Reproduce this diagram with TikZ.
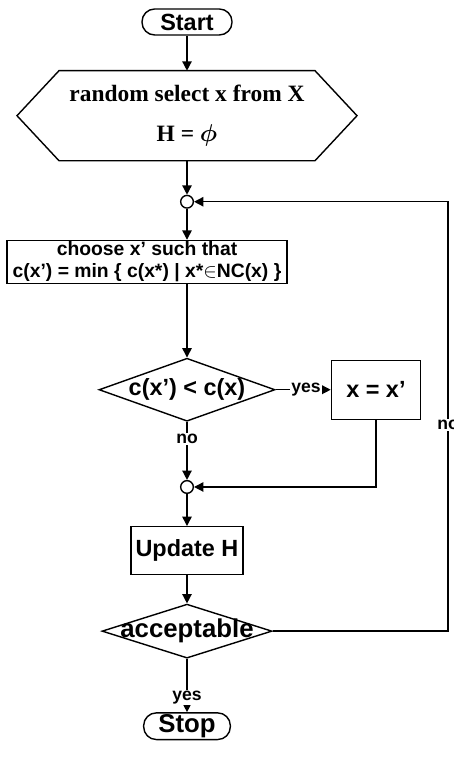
\documentclass[tikz,border=0pt]{standalone}
\usepackage{amsmath}
\usepackage{fontspec}
\setmainfont{Liberation Serif}
\setsansfont{Liberation Sans}
\usepackage{tikz}
\usetikzlibrary{arrows.meta,positioning,shapes.geometric}
\tikzset{
  term/.style={draw,rounded corners=0.38cm,minimum width=2.7cm,minimum height=0.78cm,
    inner sep=1pt,font=\sffamily\bfseries\fontsize{20}{22}\selectfont},
  init/.style={minimum width=10.2cm,minimum height=2.7cm,outer sep=0pt,
    align=center,inner sep=0pt,font=\bfseries\fontsize{20}{24}\selectfont},
  junction/.style={draw,circle,minimum size=0.38cm,inner sep=0pt,fill=white},
  process/.style={draw,align=center,inner sep=1pt,
    font=\sffamily\bfseries\fontsize{20}{22}\selectfont},
  decision/.style={draw,diamond,aspect=3,inner xsep=-20pt,inner ysep=0pt,
    font=\sffamily\bfseries\fontsize{20}{22}\selectfont},
  arrow/.style={-{Triangle[length=8pt,width=8pt]}},
  labelstyle/.style={font=\sffamily\bfseries\fontsize{15}{16}\selectfont,
    inner sep=1pt,fill=white}
}
\begin{document}
\begin{tikzpicture}[x=0.03cm,y=-0.03cm,line width=1.2pt]
  \useasboundingbox (0,0) rectangle (453,766);
  \node[term] (start) at (187,22) {Start};
  \node[init,below=1.05cm of start] (init) {random select x from X\\[10pt] H = $\boldsymbol{\phi}$};
  \draw (init.west) -- ([xshift=1.26cm]init.north west) -- ([xshift=-1.26cm]init.north east)
    -- (init.east) -- ([xshift=-1.26cm]init.south east) -- ([xshift=1.26cm]init.south west) -- cycle;
  \node[junction,below=1.02cm of init] (c1) {};
  \node[process,minimum width=8.4cm,minimum height=1.29cm,inner sep=0pt,
    font=\sffamily\bfseries\fontsize{16.5}{19}\selectfont,
    below=0.93cm of c1,xshift=-1.2cm] (choose)
    {choose x' such that\\c(x') = min \{ c(x*) | x*$\in$NC(x) \}};
  \node[decision,minimum width=5.28cm,minimum height=1.89cm,
    below=2.2cm of choose,xshift=1.2cm] (test) {c(x') < c(x)};
  \node[process,minimum width=2.67cm,minimum height=1.77cm,right=1.65cm of test] (swap) {x = x'};
  \node[junction,below=1.74cm of test] (c2) {};
  \node[process,minimum width=3.36cm,minimum height=1.44cm,below=0.96cm of c2] (update) {Update H};
  \node[decision,minimum width=5.1cm,minimum height=1.62cm,
    font=\sffamily\bfseries\fontsize{22}{24}\selectfont,below=0.84cm of update] (accept) {acceptable};
  \node[term,minimum width=2.6cm,minimum height=0.8cm,
    font=\sffamily\bfseries\fontsize{22}{24}\selectfont,below=1.6cm of accept] (stop) {Stop};
  \coordinate (back) at ([xshift=7.83cm]c1);
  % connectors
  \draw[arrow] (start) -- (init);
  \draw[arrow] (init) -- (c1);
  \draw[arrow] (c1) -- (c1 |- choose.north);
  \draw[arrow] (test |- choose.south) -- (test);
  \draw[arrow] (test) -- node[labelstyle,pos=0.55] {yes} (swap);
  \draw[arrow] (test) -- node[labelstyle,pos=0.3] {no} (c2);
  \draw[arrow] (swap) |- (c2);
  \draw[arrow] (c2) -- (update);
  \draw[arrow] (update) -- (accept);
  \draw[arrow] (accept) -- node[labelstyle,pos=0.72] {yes} (stop);
  \draw[arrow] (accept) -| node[labelstyle,pos=0.74] {no} (back) -- (c1);
\end{tikzpicture}
\end{document}
